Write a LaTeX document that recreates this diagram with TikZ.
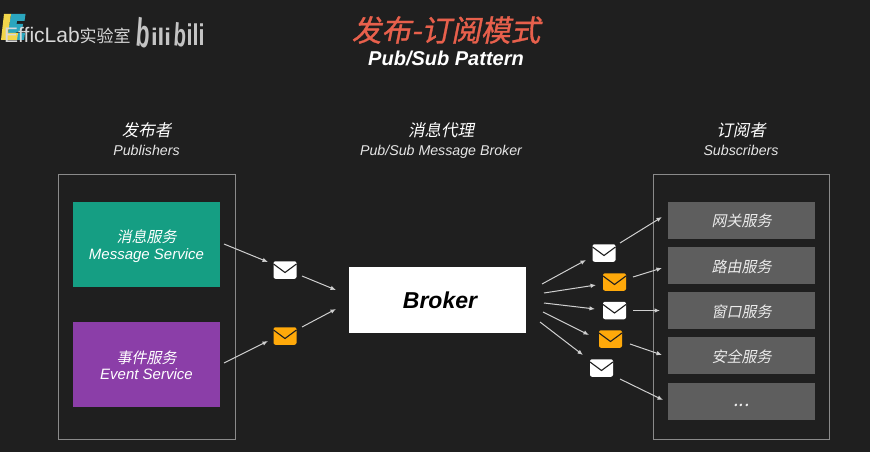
\documentclass[tikz,border=0pt]{standalone}
\usepackage{fontspec}
\setmainfont{Liberation Sans}
\newfontfamily\cjk[FakeSlant=0.2]{Noto Sans CJK SC}
\newfontfamily\cjkup{Noto Sans CJK SC}
\newfontfamily\cjkb[FakeSlant=0.2,FakeBold=1]{Noto Sans CJK SC}
\usetikzlibrary{arrows.meta}
\definecolor{bgc}{HTML}{1F1F1F}
\definecolor{framec}{HTML}{8A8A8A}
\definecolor{greenc}{HTML}{159E83}
\definecolor{purplec}{HTML}{8B3EA8}
\definecolor{grayc}{HTML}{5E5E5E}
\definecolor{orangec}{HTML}{FFA90A}
\definecolor{arrowc}{HTML}{CFCFCF}
\definecolor{titlec}{HTML}{E8604C}
\definecolor{logoc}{HTML}{D8D8D8}
\definecolor{bilic}{HTML}{C4C4C4}
\definecolor{logoy}{HTML}{F2D64B}
\definecolor{logob}{HTML}{2BA6BE}
\newcommand{\zh}{\fontsize{15}{17}\selectfont\cjk}
\newcommand{\en}{\fontsize{15}{17}\selectfont\itshape}
\newcommand{\low}[2]{\raisebox{#1}[0pt][0pt]{#2}}
\tikzset{
  x=1pt,y=-1pt,
  frame/.style={draw=framec,line width=1pt,fill=none,minimum width=176.5pt,minimum height=265pt,inner sep=0pt},
  svc/.style={fill=#1,draw=none,minimum width=147pt,minimum height=85pt,inner sep=0pt},
  svctext/.style={text=white,inner sep=0pt},
  sub/.style={fill=grayc,draw=none,minimum width=147pt,minimum height=37pt,inner sep=0pt,text=white!92!black,font=\zh},
  heading/.style={text=white,align=center,inner sep=0pt},
  hzh/.style={heading,font=\fontsize{16.5}{18}\selectfont\cjk},
  hen/.style={heading,text=white!90!black,font=\fontsize{14.2}{16}\selectfont\itshape},
  arr/.style={draw=arrowc,line width=1pt,-{Latex[length=5.5pt,width=4.5pt]}},
  env/.style={fill=#1,draw=none,rounded corners=2pt,minimum width=23pt,minimum height=17.5pt,inner sep=0pt},
  bili/.style={text=bilic,anchor=center,inner sep=0pt,font=\fontsize{#1}{#1}\selectfont\bfseries},
}
\newcommand{\envelope}[4]{%
  \node[env=#4] (#1) at (#2,#3) {};
  \draw[bgc,line width=1.1pt]
    ([xshift=-11.5pt,yshift=6pt]#1.center) -- ([yshift=-2.5pt]#1.center) -- ([xshift=11.5pt,yshift=6pt]#1.center);
}
\newcommand{\arrowpair}[5]{%
  \coordinate (#1s) at (#2,#3);
  \coordinate (#1e) at (#4,#5);
  \draw[arr] (#1s) -- (#1e);
}
\begin{document}
\begin{tikzpicture}
\useasboundingbox (0,0) rectangle (870,452);
\fill[bgc] (0,0) rectangle (870,452);
% logo
\fill[logob] (11,14) -- (25.5,14) -- (24.5,21) -- (17,21) -- (16.5,24) -- (23,24) -- (22,30) -- (15,33) -- (8,33) -- cycle;
\fill[logob] (17,33) -- (25,33) -- (24,40) -- (16,40) -- cycle;
\fill[logoy] (4,14) -- (11,14) -- (8,33) -- (18,33) -- (17,40) -- (1,40) -- cycle;
\node[text=logoc,anchor=west,inner sep=0pt,font=\fontsize{21}{23}\selectfont] (lab) at (4,36) {EfficLab\fontsize{17}{23}\selectfont\cjkup 实验室};
\node[bili=30,xscale=0.75,yscale=1.33,rotate=-8] (bili1) at (143.5,33) {b};
\node[bili=24] (bili2) at (161,37) {ili};
\node[bili=24,xscale=0.85,yscale=1.35,rotate=-6] (bili3) at (180,35) {b};
\node[bili=24,xscale=0.9,yscale=1.25] (bili4) at (195.5,35) {ili};
% title
\node[text=titlec,font=\fontsize{29.7}{32}\selectfont\cjkb] (title) at (446,30) {发布-订阅模式};
\node[heading,font=\fontsize{20}{22}\selectfont\bfseries\itshape] (subtitle) at (446,58.5) {Pub/Sub Pattern};
% headings
\node[hzh] (h1) at (146.5,130) {发布者};
\node[hen] (h1e) at (146.5,150) {Publishers};
\node[hzh] (h2) at (441,130) {消息代理};
\node[hen] (h2e) at (441,151.5) {Pub/Sub Message Broker};
\node[hzh] (h3) at (741,130) {订阅者};
\node[hen] (h3e) at (741,150) {Subscribers};
% frames
\node[frame] (pubf) at (146.75,307) {};
\node[frame] (subf) at (741.25,307) {};
% publishers
\node[svc=greenc] (msg) at (146.5,244.5) {};
\node[svctext,font=\zh] (msgz) at (146.5,237) {消息服务};
\node[svctext,font=\en] (msge) at (146.5,255.5) {Message Service};
\node[svc=purplec] (evt) at (146.5,364) {};
\node[svctext,font=\zh] (evtz) at (146.5,357.5) {事件服务};
\node[svctext,font=\en] (evte) at (146.5,374) {Event Service};
% broker
\node[fill=white,minimum width=177pt,minimum height=66pt,inner sep=0pt,font=\fontsize{23}{25}\selectfont\bfseries\itshape] (broker) at (437.5,299.5) {\hspace*{5pt}\low{-8.8pt}{Broker}};
% subscribers
\node[sub] (s1) at (741.5,220) {\low{-6.7pt}{网关服务}};
\node[sub] (s2) at (741.5,265.5) {\low{-6.7pt}{路由服务}};
\node[sub] (s3) at (741.5,310.5) {\low{-6.7pt}{窗口服务}};
\node[sub] (s4) at (741.5,355.5) {\low{-6.7pt}{安全服务}};
\node[sub] (s5) at (741.5,401) {\fontsize{19}{20}\selectfont\upshape\low{-5pt}{...}};
% envelopes
\envelope{e1}{285}{270}{white}
\envelope{e2}{285}{336}{orangec}
\envelope{e3}{604}{253}{white}
\envelope{e4}{614.5}{282}{orangec}
\envelope{e5}{614.5}{310.5}{white}
\envelope{e6}{610.5}{339}{orangec}
\envelope{e7}{601.5}{368}{white}
% arrows
\arrowpair{a1}{224}{244}{268}{262}
\arrowpair{a2}{224}{363}{268}{341}
\arrowpair{a3}{302}{276}{336}{290}
\arrowpair{a4}{302}{327}{336}{309}
\arrowpair{b1}{542}{284}{586}{260}
\arrowpair{b2}{544}{293}{596}{285}
\arrowpair{b3}{544}{303}{595}{309}
\arrowpair{b4}{543}{312}{589}{335}
\arrowpair{b5}{540}{322}{583}{355}
\arrowpair{c1}{620}{243}{662}{217}
\arrowpair{c2}{633}{277}{662}{268}
\arrowpair{c3}{633}{310.5}{660}{310.5}
\arrowpair{c4}{630}{344}{662}{355}
\arrowpair{c5}{620}{379}{663}{400}
\end{tikzpicture}
\end{document}
